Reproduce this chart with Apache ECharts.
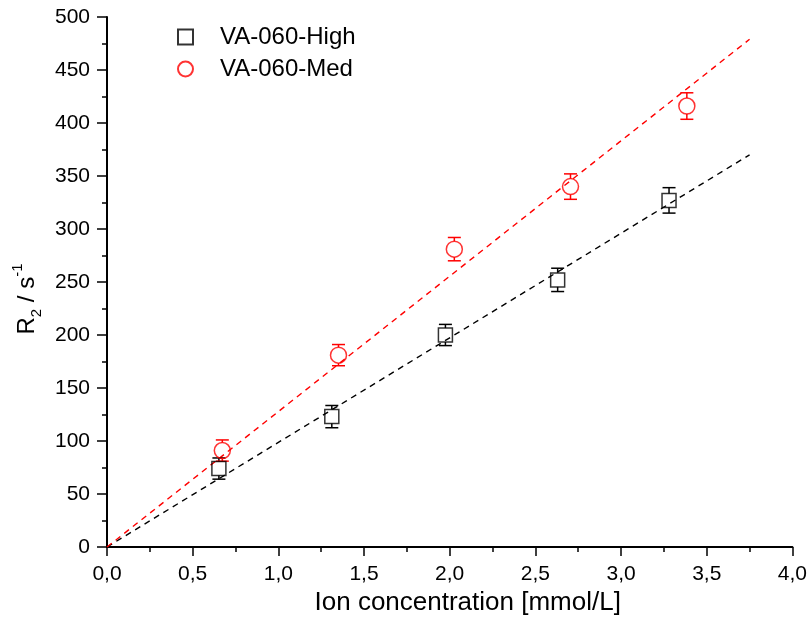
<!DOCTYPE html>
<html><head><meta charset="utf-8">
<script src="https://cdn.jsdelivr.net/npm/echarts@6/dist/echarts.min.js"></script>
<style>html,body{margin:0;padding:0;background:#fff}#c{width:810px;height:621px}</style>
</head><body><div id="c"></div>
<script>
// Data
const highX   = [0.653, 1.312, 1.975, 2.63, 3.28];
const highY   = [74, 123, 200, 252, 327];
const highErr = [10, 10.5, 10, 11, 12];
const medX    = [0.673, 1.351, 2.027, 2.705, 3.384];
const medY    = [91, 181, 281, 340, 416];
const medErr  = [10, 10, 11, 12, 12.5];
// linear fit lines through origin
const fitX     = [0, 3.75];
const highFitY = [0, 370];
const medFitY  = [0, 479];
const xTicks = { min: 0, max: 4, interval: 0.5 };
const yTicks = { min: 0, max: 500, interval: 50 };

const FONT = 'Liberation Sans, Arial, sans-serif';
function pairs(xs, ys) { return xs.map((x, i) => [x, ys[i]]); }

function errSeries(xs, ys, es, color, half) {
  return {
    type: 'custom', silent: true, z: 3,
    data: xs.map((x, i) => [x, ys[i], es[i]]),
    renderItem: function (params, api) {
      const x = api.value(0), y = api.value(1), e = api.value(2);
      const c = api.coord([x, y]);
      const t = api.coord([x, y + e]);
      const b = api.coord([x, y - e]);
      const w = 6.5;
      const st = { stroke: color, lineWidth: 1.5 };
      const ch = [];
      if (c[1] - half > t[1]) ch.push({ type: 'line', shape: { x1: c[0], y1: t[1], x2: c[0], y2: c[1] - half }, style: st });
      if (c[1] + half < b[1]) ch.push({ type: 'line', shape: { x1: c[0], y1: c[1] + half, x2: c[0], y2: b[1] }, style: st });
      ch.push({ type: 'line', shape: { x1: c[0] - w, y1: t[1], x2: c[0] + w, y2: t[1] }, style: st });
      ch.push({ type: 'line', shape: { x1: c[0] - w, y1: b[1], x2: c[0] + w, y2: b[1] }, style: st });
      return { type: 'group', children: ch };
    }
  };
}

const chart = echarts.init(document.getElementById('c'), null, { renderer: 'canvas' });
chart.setOption({
  animation: false,
  backgroundColor: '#fff',
  grid: { left: 107, right: 16, top: 17, bottom: 74, containLabel: false },
  legend: {
    orient: 'vertical', left: 172, top: 20, itemGap: 8, itemWidth: 15, itemHeight: 15,
    textStyle: { fontFamily: FONT, fontSize: 24, lineHeight: 24, color: '#000', padding: [0, 0, 0, 22] },
    data: ['VA-060-High', 'VA-060-Med']
  },
  xAxis: {
    type: 'value', min: xTicks.min, max: xTicks.max, interval: xTicks.interval,
    name: 'Ion concentration [mmol/L]', nameLocation: 'middle', nameGap: 43,
    nameTextStyle: { fontFamily: FONT, fontSize: 26, color: '#000', padding: [0, 0, 0, 36] },
    axisLine: { onZero: false, lineStyle: { color: '#000', width: 2 } },
    axisTick: { show: true, inside: false, length: 9, lineStyle: { color: '#000', width: 1.5 } },
    minorTick: { show: true, splitNumber: 2, length: 5, lineStyle: { color: '#000', width: 1.5 } },
    splitLine: { show: false },
    axisLabel: { fontFamily: FONT, fontSize: 21, color: '#000', margin: 17,
      formatter: v => v.toFixed(1).replace('.', ',') }
  },
  yAxis: {
    type: 'value', min: yTicks.min, max: yTicks.max, interval: yTicks.interval,
    name: '{a|R}{sub|2}{a| / s}{sup|-1}', nameLocation: 'middle', nameGap: 58, nameRotate: 90,
    nameTextStyle: { fontFamily: FONT, fontSize: 24, color: '#000', padding: [0, 34, 0, 0],
      rich: {
        a: { fontFamily: FONT, fontSize: 24, color: '#000', lineHeight: 34, verticalAlign: 'middle' },
        sub: { fontFamily: FONT, fontSize: 15, color: '#000', lineHeight: 34, verticalAlign: 'bottom' },
        sup: { fontFamily: FONT, fontSize: 15, color: '#000', lineHeight: 34, verticalAlign: 'top' }
      } },
    axisLine: { onZero: false, lineStyle: { color: '#000', width: 2 } },
    axisTick: { show: true, inside: false, length: 10, lineStyle: { color: '#000', width: 1.5 } },
    minorTick: { show: true, splitNumber: 2, length: 5, lineStyle: { color: '#000', width: 1.5 } },
    splitLine: { show: false },
    axisLabel: { fontFamily: FONT, fontSize: 21, color: '#000', margin: 17, padding: [5, 0, 0, 0] }
  },
  series: [
    { name: 'highFit', type: 'line', data: pairs(fitX, highFitY), symbol: 'none', silent: true, z: 1,
      lineStyle: { color: '#000', width: 1.4, type: [6, 5] } },
    { name: 'medFit', type: 'line', data: pairs(fitX, medFitY), symbol: 'none', silent: true, z: 1,
      lineStyle: { color: '#ff0000', width: 1.4, type: [6, 5] } },
    errSeries(highX, highY, highErr, '#000', 7),
    errSeries(medX, medY, medErr, '#ff0000', 8),
    { name: 'VA-060-High', type: 'scatter', data: pairs(highX, highY), symbol: 'rect', symbolSize: 14, z: 4,
      itemStyle: { color: 'rgba(0,0,0,0)', borderColor: '#000', borderWidth: 1.5 } },
    { name: 'VA-060-Med', type: 'scatter', data: pairs(medX, medY), symbol: 'circle', symbolSize: 16, z: 4,
      itemStyle: { color: 'rgba(0,0,0,0)', borderColor: '#ff0000', borderWidth: 1.5 } }
  ]
});
</script></body></html>
